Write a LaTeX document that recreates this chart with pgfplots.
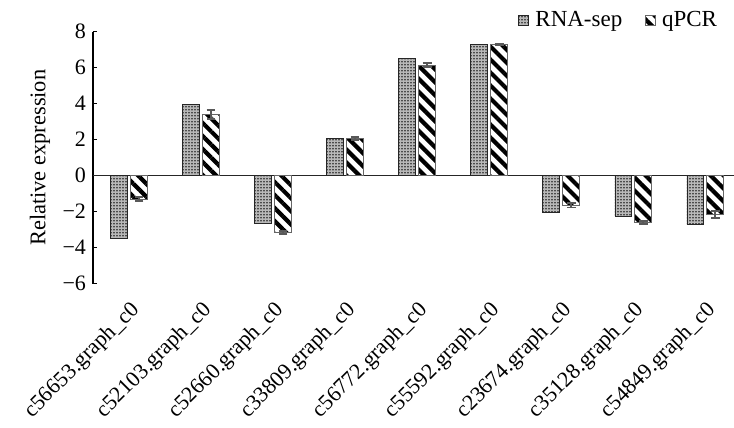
\documentclass[border=0pt]{standalone}
\usepackage{pgfplots}
\pgfplotsset{compat=1.18}
\usepackage{fontspec}
\setmainfont{Liberation Serif}
\usetikzlibrary{patterns.meta}
\begin{document}
\begin{tikzpicture}
\useasboundingbox (-46.5pt,-72pt) rectangle (320.5pt,141.85pt);
\begin{axis}[
  scale only axis,
  width=320.5pt, height=126pt,
  xmin=-0.5, xmax=8.4,
  ymin=-6, ymax=8,
  axis lines*=left,
  x axis line style={draw=none},
  y axis line style={black, line width=0.6pt},
  xtick={0,...,8},
  xticklabels={c56653.graph\_c0,c52103.graph\_c0,c52660.graph\_c0,c33809.graph\_c0,c56772.graph\_c0,c55592.graph\_c0,c23674.graph\_c0,c35128.graph\_c0,c54849.graph\_c0},
  xtick style={draw=none},
  x tick label style={rotate=45, anchor=north east, inner sep=1.5pt, xshift=-2.5pt, yshift=-2.5pt, font=\fontsize{11}{13}\selectfont},
  ytick={-6,-4,...,8},
  yticklabels={−6,−4,−2,0,2,4,6,8},
  y tick label style={font=\fontsize{11}{13}\selectfont},
  ytick style={black, line width=0.6pt},
  tick align=inside,
  major tick length=2.2pt,
  extra y ticks={0},
  extra y tick labels={},
  extra y tick style={grid=major, major grid style={black!85, line width=0.7pt}, major tick length=0pt},
  ylabel={Relative expression},
  y label style={at={(axis description cs:-0.0827,0.5)}, anchor=center, font=\fontsize{11.2}{13}\selectfont},
  ybar, bar width=8.25pt,
  error bars/error bar style={black!65, line width=0.9pt},
  error bars/error mark options={rotate=90, mark size=2.2pt, line width=0.9pt, black!65},
  legend columns=2,
  legend style={draw=none, fill=none, at={(axis description cs:0.978,1.046)}, anchor=east,
    font=\fontsize{11.5}{13}\selectfont, inner sep=0pt,
    /tikz/every even column/.append style={column sep=10pt},
    nodes={inner sep=1.2pt}},
  legend image code/.code={\draw[#1] (0pt,-2.5pt) rectangle (5pt,2.5pt);},
  legend cell align=left,
  legend style={/tikz/every odd column/.append style={column sep=2pt}},
]
\addplot[bar shift=-5pt, draw=black!85, line width=0.4pt, fill=gray!55,
  postaction={pattern={Dots[distance=1.5pt, radius=0.42pt]}, pattern color=black!85}]
  coordinates {(0,-3.5) (1,3.95) (2,-2.65) (3,2.05) (4,6.5) (5,7.3) (6,-2.05) (7,-2.25) (8,-2.7)};
\addlegendentry{RNA-sep}
\addplot[bar shift=5pt, draw=black!60, line width=0.5pt, fill=white,
  postaction={pattern={Lines[angle=-45, distance=4.6pt, line width=2.1pt]}, pattern color=black},
  error bars/.cd, y dir=both, y explicit]
  coordinates {(0,-1.3) +- (0,0.1) (1,3.4) +- (0,0.25) (2,-3.15) +- (0,0.1) (3,2.05) +- (0,0.08) (4,6.15) +- (0,0.1) (5,7.3) +- (0,0.05) (6,-1.65) +- (0,0.12) (7,-2.6) +- (0,0.08) (8,-2.15) +- (0,0.18)};
\addlegendentry{qPCR}
\end{axis}
\end{tikzpicture}
\end{document}
